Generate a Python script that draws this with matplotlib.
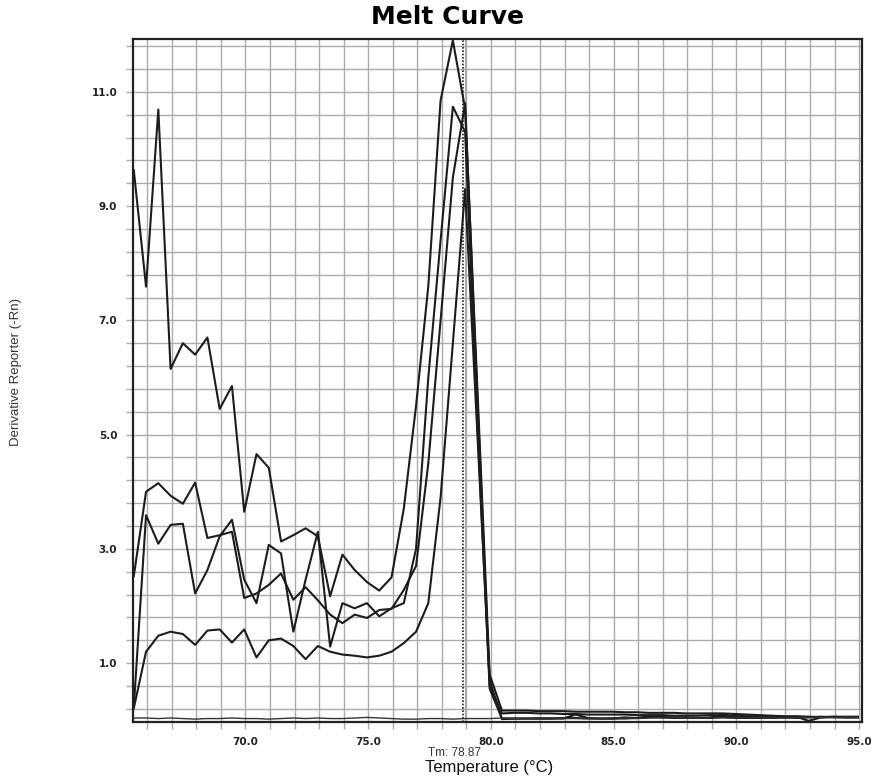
import matplotlib
matplotlib.use("Agg")
import matplotlib.pyplot as plt
import numpy as np
from matplotlib.ticker import FixedLocator, FuncFormatter

# temperature steps of the melt run (deg C), 0.5 apart
temps = np.arange(65.45, 95.0, 0.5)

# derivative reporter (-Rn) per well
well_a = [9.63, 7.59, 10.69, 6.15, 6.60, 6.40, 6.70, 5.45, 5.85, 3.65,
          4.66, 4.42, 3.13, 3.24, 3.36, 3.22, 2.17, 2.90, 2.63, 2.42,
          2.27, 2.50, 3.70, 5.50, 7.60, 10.85, 11.90, 10.70, 5.80, 0.80,
          0.17, 0.17, 0.17, 0.16, 0.16, 0.16, 0.15, 0.15, 0.15, 0.15,
          0.14, 0.14, 0.13, 0.13, 0.13, 0.12, 0.12, 0.12, 0.12, 0.11,
          0.10, 0.09, 0.08, 0.07, 0.07, 0.06, 0.06, 0.06, 0.06, 0.06]
well_b = [2.52, 4.00, 4.15, 3.93, 3.79, 4.16, 3.19, 3.24, 3.30, 2.14,
          2.22, 2.37, 2.57, 2.11, 2.33, 2.10, 1.85, 1.70, 1.85, 1.79,
          1.93, 1.95, 2.28, 2.70, 4.50, 7.00, 9.50, 10.80, 5.60, 0.60,
          0.12, 0.13, 0.13, 0.12, 0.12, 0.11, 0.11, 0.10, 0.10, 0.10,
          0.10, 0.09, 0.09, 0.09, 0.08, 0.08, 0.08, 0.09, 0.08, 0.08,
          0.07, 0.07, 0.07, 0.06, 0.06, 0.06, 0.05, 0.06, 0.06, 0.06]
well_c = [0.22, 3.59, 3.09, 3.42, 3.44, 2.22, 2.63, 3.22, 3.51, 2.46,
          2.05, 3.07, 2.92, 1.55, 2.46, 3.30, 1.29, 2.05, 1.96, 2.05,
          1.82, 1.96, 2.05, 3.00, 6.00, 8.40, 10.74, 10.30, 5.20, 0.55,
          0.03, 0.03, 0.03, 0.03, 0.03, 0.03, 0.10, 0.04, 0.03, 0.03,
          0.03, 0.04, 0.05, 0.06, 0.05, 0.05, 0.04, 0.05, 0.11, 0.05,
          0.04, 0.05, 0.04, 0.05, 0.06, -0.01, 0.05, 0.06, 0.05, 0.05]
well_d = [0.21, 1.20, 1.48, 1.55, 1.51, 1.32, 1.57, 1.59, 1.36, 1.59,
          1.10, 1.40, 1.43, 1.30, 1.07, 1.30, 1.20, 1.15, 1.13, 1.10,
          1.13, 1.20, 1.35, 1.55, 2.05, 3.90, 6.60, 9.30, 5.00, 0.70,
          0.02, 0.03, 0.03, 0.03, 0.03, 0.04, 0.04, 0.03, 0.03, 0.03,
          0.05, 0.04, 0.07, 0.05, 0.04, 0.04, 0.04, 0.04, 0.06, 0.04,
          0.04, 0.04, 0.05, 0.05, 0.04, 0.05, 0.06, 0.05, 0.05, 0.05]
ntc = [0.04, 0.04, 0.03, 0.04, 0.03, 0.02, 0.03, 0.03, 0.04, 0.03,
       0.03, 0.02, 0.03, 0.04, 0.03, 0.04, 0.03, 0.03, 0.04, 0.05,
       0.04, 0.03, 0.02, 0.02, 0.03, 0.03, 0.02, 0.03, 0.03, 0.03,
       0.04, 0.03, 0.03, 0.04, 0.04, 0.03, 0.03, 0.03, 0.03, 0.04,
       0.04, 0.03, 0.04, 0.04, 0.05, 0.04, 0.04, 0.04, 0.04, 0.04,
       0.04, 0.05, 0.05, 0.04, 0.05, 0.05, 0.05, 0.05, 0.05, 0.05]

tm = 78.87
x_labels = [70, 75, 80, 85, 90, 95]
y_labels = [1, 3, 5, 7, 9, 11]

grid_col = "#ababab"

fig = plt.figure(figsize=(8.72, 7.78), dpi=100)
ax = fig.add_axes([0.152, 0.072, 0.836, 0.8775])

for well in [well_a, well_b, well_c, well_d]:
    ax.plot(temps, well, color="#1c1c1c", linewidth=1.5, zorder=3)
ax.plot(temps, ntc, color="#333333", linewidth=1.0, zorder=3)

# Tm marker
ax.axvline(tm, color="#222222", linestyle=(0, (1, 1)), linewidth=1.2, zorder=4)
ax.axvline(tm + 0.06, color="#aaaaaa", linewidth=0.8, zorder=2)

ax.set_xlim(65.4, 95.1)
ax.set_ylim(-0.03, 11.92)

ax.xaxis.set_major_locator(FixedLocator(np.arange(66, 96, 1)))
ax.yaxis.set_major_locator(FixedLocator(np.arange(0.2, 11.9, 0.4)))
ax.xaxis.set_major_formatter(FuncFormatter(
    lambda v, p: f"{v:.1f}" if round(v) in x_labels and abs(v - round(v)) < 1e-6 else ""))
ax.yaxis.set_major_formatter(FuncFormatter(
    lambda v, p: f"{v:.1f}" if round(v) in y_labels and abs(v - round(v)) < 1e-6 else ""))

ax.grid(True, color=grid_col, linewidth=1.0)
ax.set_axisbelow(True)
ax.tick_params(direction="out", length=5, width=1.0, color=grid_col,
               labelsize=7.5, labelcolor="#222222")
ax.tick_params(axis="x", pad=6)
ax.tick_params(axis="y", pad=6)
for lab in ax.get_xticklabels() + ax.get_yticklabels():
    lab.set_fontweight("bold")

for side in ["top", "bottom", "left", "right"]:
    ax.spines[side].set_color("#222222")
    ax.spines[side].set_linewidth(1.6)

fig.text(0.513, 0.978, "Melt Curve", ha="center", va="center",
         fontsize=18, fontweight="bold", family="DejaVu Sans")
fig.text(0.491, 0.032, "Tm: 78.87", ha="left", va="center", fontsize=8.5,
         color="#333333", family=["Liberation Sans", "DejaVu Sans"])
fig.text(0.487, 0.014, "Temperature (°C)", ha="left", va="center", fontsize=12,
         color="#111111", family=["Liberation Sans", "DejaVu Sans"])
fig.text(0.018, 0.522, "Derivative Reporter (-Rn)", ha="center", va="center",
         rotation=90, fontsize=9.5, color="#333333",
         family=["Liberation Sans Narrow", "Liberation Sans", "DejaVu Sans"])

fig.savefig("out.png", dpi=100, facecolor="white")
